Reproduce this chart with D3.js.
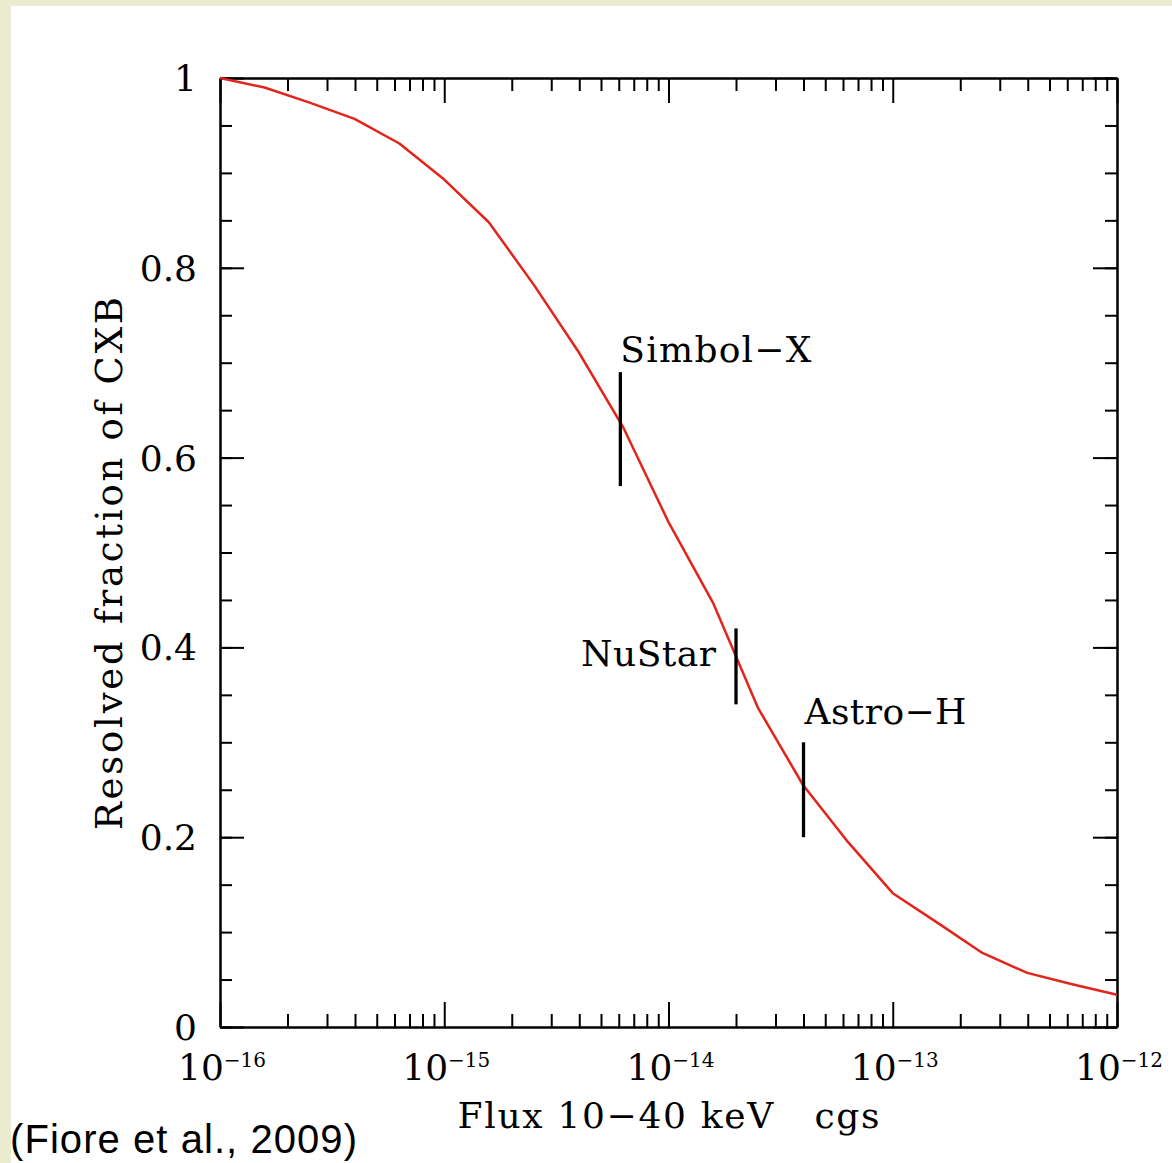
<!DOCTYPE html>
<head>
<meta charset="utf-8">
<script src="https://d3js.org/d3.v7.min.js"></script>
<style>
  body { margin: 0; background: #ebebd0; }
  .axis path, .axis line { fill: none; stroke: #000; stroke-width: 2px; }
  .serif { font-family: "DejaVu Serif", serif; fill: #000; white-space: pre; }
</style>
</head>
<body>
<svg id="chart" width="1172" height="1163"></svg>
<script>
// resolved fraction of the CXB vs limiting flux (0.2 dex steps)
var flux = [1.00e-16, 1.58e-16, 2.51e-16, 3.98e-16, 6.31e-16,
            1.00e-15, 1.58e-15, 2.51e-15, 3.98e-15, 6.31e-15,
            1.00e-14, 1.58e-14, 2.51e-14, 3.98e-14, 6.31e-14,
            1.00e-13, 1.58e-13, 2.51e-13, 3.98e-13, 6.31e-13, 1.00e-12];
var fraction = [1.000, 0.990, 0.974, 0.957, 0.931,
                0.893, 0.848, 0.782, 0.711, 0.631,
                0.532, 0.447, 0.336, 0.255, 0.195,
                0.141, 0.110, 0.078, 0.057, 0.045, 0.034];

// mission sensitivity markers
var missionNames = ["Simbol\u2212X", "NuStar", "Astro\u2212H"];
var missionFlux = [6.1e-15, 2.0e-14, 4.0e-14];
var missionLow = [0.57, 0.34, 0.20];
var missionHigh = [0.69, 0.42, 0.30];

var xMajor = [1e-16, 1e-15, 1e-14, 1e-13, 1e-12];
var xExponents = ["\u221216", "\u221215", "\u221214", "\u221213", "\u221212"];
var yMajor = [0, 0.2, 0.4, 0.6, 0.8, 1];
var yLabels = ["0", "0.2", "0.4", "0.6", "0.8", "1"];

var xTitle = "Flux 10\u221240 keV   cgs";
var yTitle = "Resolved fraction of CXB";
var credit = "(Fiore et al., 2009)";

var W = 1172, H = 1163,
    margin = {top: 78, right: 55, bottom: 136, left: 220},
    width = W - margin.left - margin.right,
    height = H - margin.top - margin.bottom;

var svg = d3.select("#chart");

svg.append("rect").attr("width", W).attr("height", H).attr("fill", "#ebebd0");
svg.append("rect").attr("x", 11).attr("y", 6).attr("width", W - 11).attr("height", H - 6).attr("fill", "#fff");

var g = svg.append("g").attr("transform", "translate(" + margin.left + "," + margin.top + ")");

var x = d3.scaleLog().domain([1e-16, 1e-12]).range([0, width]);
var y = d3.scaleLinear().domain([0, 1]).range([height, 0]);

var xMinor = [];
xMajor.slice(0, -1).forEach(function(d) {
  for (var k = 2; k <= 9; k++) xMinor.push(d * k);
});
var yMinor = d3.range(0, 21).map(function(i) { return i * 0.05; });

function addAxis(axis, tx, ty) {
  g.append("g").attr("class", "axis")
    .attr("transform", "translate(" + tx + "," + ty + ")")
    .call(axis);
}

// minor + major ticks on all four sides, pointing inward
addAxis(d3.axisBottom(x).tickValues(xMinor).tickSizeInner(-13).tickSizeOuter(0).tickFormat(""), 0, height);
addAxis(d3.axisBottom(x).tickValues(xMajor).tickSizeInner(-25).tickSizeOuter(0).tickFormat(""), 0, height);
addAxis(d3.axisTop(x).tickValues(xMinor).tickSizeInner(-13).tickSizeOuter(0).tickFormat(""), 0, 0);
addAxis(d3.axisTop(x).tickValues(xMajor).tickSizeInner(-25).tickSizeOuter(0).tickFormat(""), 0, 0);
addAxis(d3.axisLeft(y).tickValues(yMinor).tickSizeInner(-12).tickSizeOuter(0).tickFormat(""), 0, 0);
addAxis(d3.axisLeft(y).tickValues(yMajor).tickSizeInner(-24).tickSizeOuter(0).tickFormat(""), 0, 0);
addAxis(d3.axisRight(y).tickValues(yMinor).tickSizeInner(-12).tickSizeOuter(0).tickFormat(""), width, 0);
addAxis(d3.axisRight(y).tickValues(yMajor).tickSizeInner(-24).tickSizeOuter(0).tickFormat(""), width, 0);

// y tick labels
g.selectAll(".ylab").data(yMajor).enter().append("text")
  .attr("class", "serif")
  .attr("x", -23)
  .attr("y", function(d) { return y(d); })
  .attr("dy", "0.36em")
  .attr("text-anchor", "end")
  .style("font-size", "36px")
  .text(function(d, i) { return yLabels[i]; });

// x tick labels as 10^n
var xl = g.selectAll(".xlab").data(xMajor).enter().append("text")
  .attr("class", "serif")
  .attr("x", function(d) { return x(d) + 2; })
  .attr("y", height + 53)
  .attr("text-anchor", "middle")
  .style("font-size", "36px");
xl.append("tspan").text("10");
xl.append("tspan").attr("dy", -13).style("font-size", "20px")
  .text(function(d, i) { return xExponents[i]; });

// curve
var line = d3.line()
  .x(function(d) { return x(d[0]); })
  .y(function(d) { return y(d[1]); });

g.append("path")
  .datum(flux.map(function(f, i) { return [f, fraction[i]]; }))
  .attr("d", line)
  .attr("fill", "none")
  .attr("stroke", "#e3241b")
  .attr("stroke-width", 2.5)
  .attr("stroke-linejoin", "round");

// mission markers
var missions = missionNames.map(function(n, i) {
  return {name: n, flux: missionFlux[i], lo: missionLow[i], hi: missionHigh[i]};
});
// label placement: [dx, dy from top of bar, anchor, width]
var labelPos = [[0, -10, "start", 191], [-20, 38, "end", 135], [1, -18, "start", 162]];

g.selectAll(".marker").data(missions).enter().append("line")
  .attr("x1", function(d) { return x(d.flux); })
  .attr("x2", function(d) { return x(d.flux); })
  .attr("y1", function(d) { return y(d.hi); })
  .attr("y2", function(d) { return y(d.lo); })
  .attr("stroke", "#000")
  .attr("stroke-width", 3.3);

g.selectAll(".mlabel").data(missions).enter().append("text")
  .attr("class", "serif")
  .attr("x", function(d, i) { return x(d.flux) + labelPos[i][0]; })
  .attr("y", function(d, i) { return y(d.hi) + labelPos[i][1]; })
  .attr("text-anchor", function(d, i) { return labelPos[i][2]; })
  .attr("textLength", function(d, i) { return labelPos[i][3]; })
  .attr("lengthAdjust", "spacing")
  .style("font-size", "36px")
  .text(function(d) { return d.name; });

// axis titles
g.append("text")
  .attr("class", "serif")
  .attr("x", width / 2)
  .attr("y", height + 101)
  .attr("text-anchor", "middle")
  .attr("textLength", 422)
  .attr("lengthAdjust", "spacing")
  .style("font-size", "36px")
  .text(xTitle);

g.append("text")
  .attr("class", "serif")
  .attr("transform", "translate(-98," + (height / 2 + 11) + ") rotate(-90)")
  .attr("text-anchor", "middle")
  .attr("textLength", 533)
  .attr("lengthAdjust", "spacing")
  .style("font-size", "37px")
  .text(yTitle);

svg.append("text")
  .attr("x", 10)
  .attr("y", 1153)
  .attr("textLength", 347)
  .attr("lengthAdjust", "spacing")
  .style("font-family", "'Liberation Sans', Arial, sans-serif")
  .style("font-size", "40px")
  .attr("fill", "#000")
  .text(credit);
</script>
</body>
